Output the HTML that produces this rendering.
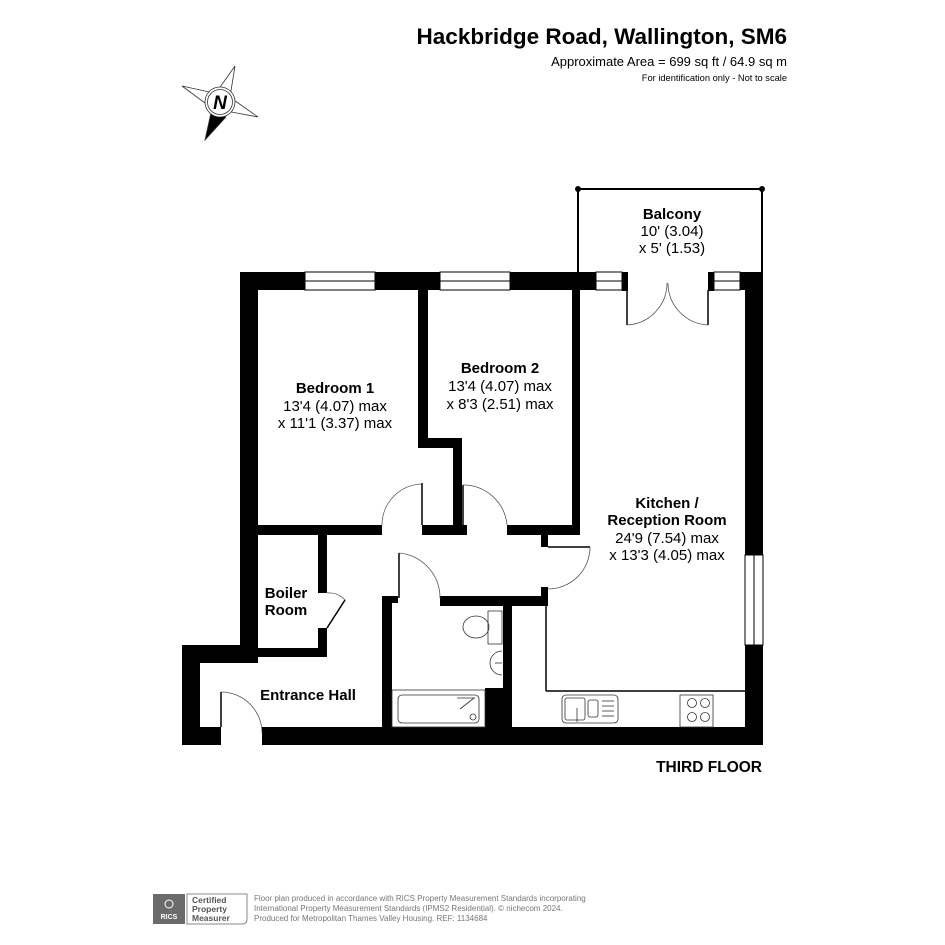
<!DOCTYPE html>
<html><head><meta charset="utf-8"><style>
html,body{margin:0;padding:0;background:#fff}
svg{display:block}
text{font-family:"Liberation Sans",Arial,sans-serif}
</style></head><body>
<svg width="945" height="945" viewBox="0 0 945 945" xmlns="http://www.w3.org/2000/svg">
<rect width="945" height="945" fill="#fff"/>
<!-- header -->
<text x="787" y="44" font-size="22.5" font-weight="bold" text-anchor="end">Hackbridge Road, Wallington, SM6</text>
<text x="787" y="66" font-size="13" text-anchor="end">Approximate Area = 699 sq ft / 64.9 sq m</text>
<text x="787" y="81" font-size="9.3" text-anchor="end">For identification only - Not to scale</text>
<!-- compass -->
<g stroke="#333" stroke-width="0.8" fill="#fff">
<polygon points="235,66 230,97 218,90"/>
<polygon points="182,86 214,93 209,106"/>
<polygon points="258,117 226,111 231,98"/>
<polygon points="205,140 212,108 226,117" fill="#000"/>
<circle cx="220" cy="102" r="15"/>
<circle cx="220" cy="102" r="12.5"/>
</g>
<text x="220" y="109" font-size="19" font-weight="bold" font-style="italic" text-anchor="middle">N</text>
<!-- balcony -->
<g stroke="#000" stroke-width="2" fill="none">
<polyline points="578,272 578,189 762,189 762,272"/>
</g>
<circle cx="578" cy="189" r="3"/><circle cx="762" cy="189" r="3"/>
<!-- walls -->
<g fill="#000">
<rect x="240" y="272" width="65" height="18"/>
<rect x="375" y="272" width="65" height="18"/>
<rect x="510" y="272" width="86" height="18"/>
<rect x="622" y="272" width="6" height="19"/>
<rect x="708" y="272" width="6" height="19"/>
<rect x="740" y="272" width="23" height="18"/>
<rect x="745" y="272" width="18" height="283"/>
<rect x="745" y="645" width="18" height="100"/>
<rect x="240" y="272" width="18" height="391"/>
<rect x="182" y="645" width="76" height="18"/>
<rect x="182" y="645" width="18" height="100"/>
<rect x="182" y="727" width="39" height="18"/>
<rect x="262" y="727" width="501" height="18"/>
<rect x="418" y="290" width="10" height="157"/>
<rect x="418" y="438" width="44" height="10"/>
<rect x="453" y="438" width="9" height="90"/>
<rect x="572" y="290" width="8" height="245"/>
<rect x="258" y="525" width="124" height="10"/>
<rect x="422" y="525" width="45" height="10"/>
<rect x="507" y="525" width="73" height="10"/>
<rect x="541" y="525" width="7" height="22"/>
<rect x="318" y="535" width="9" height="58"/>
<rect x="318" y="628" width="9" height="29"/>
<rect x="240" y="648" width="87" height="9"/>
<rect x="382" y="596" width="10" height="131"/>
<rect x="382" y="596" width="16" height="7"/>
<rect x="440" y="596" width="108" height="10"/>
<rect x="541" y="587" width="7" height="19"/>
<rect x="503" y="600" width="9" height="127"/>
<rect x="485" y="688" width="27" height="39"/>
</g>
<!-- windows -->
<g stroke="#000" stroke-width="1" fill="none">
<rect x="305" y="272" width="70" height="18"/><line x1="305" y1="281" x2="375" y2="281"/>
<rect x="440" y="272" width="70" height="18"/><line x1="440" y1="281" x2="510" y2="281"/>
<rect x="596" y="272" width="26" height="18"/><line x1="596" y1="281" x2="622" y2="281"/>
<rect x="714" y="272" width="26" height="18"/><line x1="714" y1="281" x2="740" y2="281"/>
<rect x="745" y="555" width="18" height="90"/><line x1="754" y1="555" x2="754" y2="645"/>
</g>
<!-- doors -->
<g stroke="#000" stroke-width="1.5" fill="none">
<line x1="627" y1="290" x2="627" y2="325"/><line x1="708" y1="290" x2="708" y2="325"/>
<line x1="221" y1="692" x2="221" y2="727"/>
<line x1="422" y1="483" x2="422" y2="525"/>
<line x1="463" y1="485" x2="463" y2="525"/>
<line x1="399" y1="553" x2="399" y2="598"/>
<line x1="548" y1="547" x2="590" y2="547"/>
<line x1="327" y1="628" x2="345" y2="600"/>
<line x1="546" y1="606" x2="546" y2="691"/><line x1="546" y1="691" x2="745" y2="691"/>
</g>
<g stroke="#555" stroke-width="0.8" fill="none">
<path d="M627,325 A42,42 0 0 0 667,283"/>
<path d="M708,325 A42,42 0 0 1 668,283"/>
<path d="M221,692 A41,41 0 0 1 262,733"/>
<path d="M382,525 A41,41 0 0 1 422,484"/>
<path d="M463,485 A44,44 0 0 1 507,525"/>
<path d="M399,553 A45,45 0 0 1 440,598"/>
<path d="M590,547 A42,42 0 0 1 548,589"/>
<path d="M327,593 A22,22 0 0 1 345,600"/>
</g>
<!-- fixtures -->
<g stroke="#333" stroke-width="0.8" fill="none">
<rect x="488" y="611" width="14" height="33"/>
<ellipse cx="476" cy="627" rx="13" ry="11"/>
<path d="M502,651 A12,12 0 0 0 502,675"/><line x1="495" y1="663" x2="502" y2="663"/>
<rect x="392" y="690" width="93" height="37"/>
<rect x="398" y="695" width="81" height="28" rx="4"/>
<line x1="457" y1="698" x2="475" y2="698"/><line x1="460" y1="709" x2="474" y2="698"/>
<circle cx="473" cy="717" r="3"/>
<rect x="562" y="695" width="56" height="28" rx="4"/>
<rect x="565" y="698" width="20" height="22" rx="2"/>
<rect x="588" y="700" width="10" height="17" rx="2"/>
<line x1="602" y1="701" x2="614" y2="701"/><line x1="602" y1="706" x2="614" y2="706"/><line x1="602" y1="711" x2="614" y2="711"/><line x1="602" y1="716" x2="614" y2="716"/>
<line x1="577" y1="708" x2="577" y2="722"/>
<rect x="680" y="695" width="33" height="32"/>
<circle cx="692" cy="703" r="4.5"/><circle cx="705" cy="703" r="4.5"/>
<circle cx="692" cy="717" r="4.5"/><circle cx="705" cy="717" r="4.5"/>
</g>
<!-- labels -->
<g font-size="15" text-anchor="middle">
<text x="672" y="219" font-weight="bold">Balcony</text>
<text x="672" y="236">10' (3.04)</text>
<text x="672" y="253">x 5' (1.53)</text>
<text x="335" y="393" font-weight="bold">Bedroom 1</text>
<text x="335" y="411">13'4 (4.07) max</text>
<text x="335" y="428">x 11'1 (3.37) max</text>
<text x="500" y="373" font-weight="bold">Bedroom 2</text>
<text x="500" y="391">13'4 (4.07) max</text>
<text x="500" y="409">x 8'3 (2.51) max</text>
<text x="667" y="508" font-weight="bold">Kitchen /</text>
<text x="667" y="525" font-weight="bold">Reception Room</text>
<text x="667" y="543">24'9 (7.54) max</text>
<text x="667" y="560">x 13'3 (4.05) max</text>
<text x="286" y="598" font-weight="bold">Boiler</text>
<text x="286" y="615" font-weight="bold">Room</text>
<text x="308" y="700" font-weight="bold">Entrance Hall</text>
</g>
<text x="762" y="772" font-size="15.5" font-weight="bold" text-anchor="end">THIRD FLOOR</text>
<!-- footer -->
<rect x="153" y="894" width="32" height="30" fill="#6b6b6b"/>
<text x="169" y="919" font-size="7" font-weight="bold" fill="#fff" text-anchor="middle">RICS</text>
<circle cx="169" cy="904" r="4" fill="none" stroke="#fff" stroke-width="1"/>
<path d="M187,894 H247 V919 Q247,924 242,924 H187 Z" fill="none" stroke="#888" stroke-width="1"/>
<g font-size="8.5" font-weight="bold" fill="#555" font-family="Liberation Mono,monospace">
<text x="192" y="903">Certified</text><text x="192" y="912">Property</text><text x="192" y="921">Measurer</text>
</g>
<g font-size="8" fill="#777">
<text x="254" y="901">Floor plan produced in accordance with RICS Property Measurement Standards incorporating</text>
<text x="254" y="911">International Property Measurement Standards (IPMS2 Residential).   © nichecom 2024.</text>
<text x="254" y="921">Produced for Metropolitan Thames Valley Housing.   REF:  1134684</text>
</g>
</svg>
</body></html>
